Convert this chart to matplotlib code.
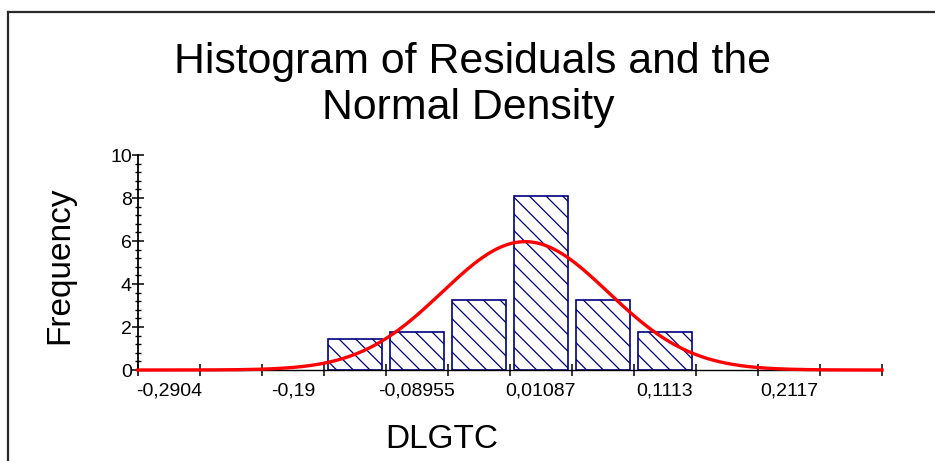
import numpy as np
import matplotlib
matplotlib.use("Agg")
import matplotlib.pyplot as plt
from matplotlib.lines import Line2D

# Histogram bins (bin centres) and the frequencies
bin_width = 0.050213
bar_centers = [-0.13976, -0.08955, -0.03934, 0.01087, 0.06108, 0.1113]
frequency = [1.45, 1.75, 3.25, 8.1, 3.25, 1.75]

# labelled positions on the x axis
label_pos = [-0.2904, -0.19, -0.08955, 0.01087, 0.1113, 0.2117]
label_txt = ["-0,2904", "-0,19", "-0,08955", "0,01087", "0,1113", "0,2117"]

# fitted normal density (mean, std dev, peak height)
norm_mean = -0.002
norm_sd = 0.0672
norm_peak = 5.97

plt.rcParams['font.family'] = ['Liberation Sans', 'DejaVu Sans']
plt.rcParams['hatch.linewidth'] = 0.9

W, H = 935, 461
fig = plt.figure(figsize=(W / 100, H / 100), dpi=100, facecolor='white')
ax = fig.add_axes([138 / W, (H - 370) / H, 744 / W, 215 / H])

x_min = label_pos[0] - bin_width / 2
x_max = label_pos[-1] + 1.5 * bin_width
edges = x_min + bin_width * np.arange(13)

ax.bar(bar_centers, frequency, width=bin_width * 0.88, color='white',
       edgecolor='#000080', hatch='\\\\', linewidth=1.2, zorder=2)

xs = np.linspace(x_min, x_max, 600)
ys = norm_peak * np.exp(-0.5 * ((xs - norm_mean) / norm_sd) ** 2)
ax.plot(xs, ys, color='red', lw=2.4, zorder=3, clip_on=False)

ax.set_xlim(x_min, x_max)
ax.set_ylim(0, 10)

for s in ['top', 'right']:
    ax.spines[s].set_visible(False)
ax.spines['left'].set_linewidth(1.3)
ax.spines['bottom'].set_linewidth(1.0)

ax.set_xticks(edges)
ax.set_xticklabels([''] * len(edges))
ax.set_xticks(label_pos, minor=True)
ax.set_xticklabels(label_txt, minor=True, fontsize=14)
ax.tick_params(axis='x', which='major', direction='inout', length=8, width=1.1)
ax.tick_params(axis='x', which='minor', length=0, pad=9)

ax.set_yticks(np.arange(0, 11, 2))
ax.set_yticks(np.arange(0, 10.01, 0.4), minor=True)
ax.tick_params(axis='y', which='major', direction='inout', length=8, width=1.1,
               labelsize=14, pad=0.5)
ax.tick_params(axis='y', which='minor', direction='inout', length=5, width=1.0)

fig.text(473 / W, 1 - 73 / H, "Histogram of Residuals and the", fontsize=30.8,
         ha='center', va='baseline')
fig.text(468 / W, 1 - 119 / H, "Normal Density", fontsize=30.8,
         ha='center', va='baseline')
fig.text(60 / W, 1 - 265 / H, "Frequency", fontsize=24, rotation=90,
         ha='center', va='center')
fig.text(442 / W, 1 - 448 / H, "DLGTC", fontsize=24, ha='center', va='baseline')

# frame of the screenshot (top and left edges)
fig.add_artist(Line2D([8 / W, 8 / W], [0, 1 - 12 / H], color='#2a2a2a', lw=1.6,
                      transform=fig.transFigure))
fig.add_artist(Line2D([8 / W, 1], [1 - 12 / H, 1 - 12 / H], color='#2a2a2a', lw=1.6,
                      transform=fig.transFigure))

fig.savefig("out.png", dpi=100, facecolor='white')
